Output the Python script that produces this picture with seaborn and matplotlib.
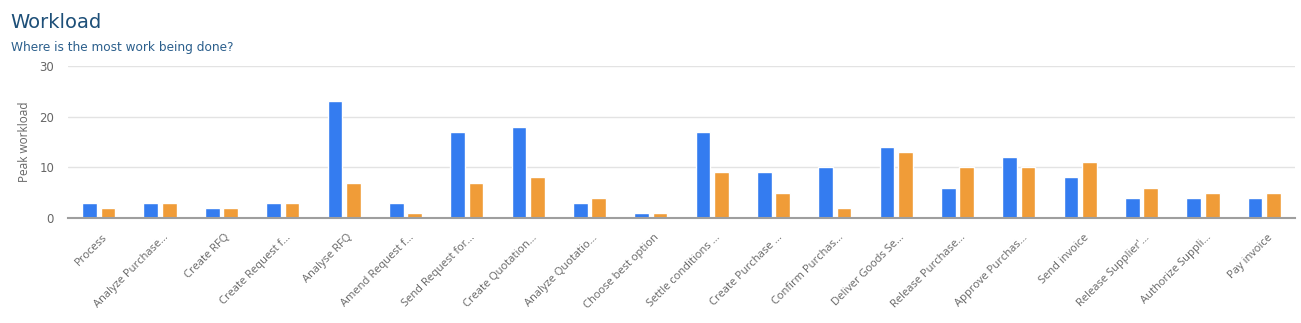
import matplotlib
matplotlib.use("Agg")
import matplotlib.pyplot as plt
import matplotlib.transforms as mtransforms
import seaborn as sns
import pandas as pd

# Activities (labels truncated as displayed on the axis)
activities = [
    "Process", "Analyze Purchase…", "Create RFQ", "Create Request f…",
    "Analyse RFQ", "Amend Request f…", "Send Request for…", "Create Quotation…",
    "Analyze Quotatio…", "Choose best option", "Settle conditions …",
    "Create Purchase …", "Confirm Purchas…", "Deliver Goods Se…",
    "Release Purchase…", "Approve Purchas…", "Send invoice",
    "Release Supplier'…", "Authorize Suppli…", "Pay invoice",
]
workload_a = [3, 3, 2, 3, 23, 3, 17, 18, 3, 1, 17, 9, 10, 14, 6, 12, 8, 4, 4, 4]
workload_b = [2, 3, 2, 3, 7, 1, 7, 8, 4, 1, 9, 5, 2, 13, 10, 10, 11, 6, 5, 5]
series_names = ["Workload A", "Workload B"]
y_ticks = [0, 10, 20, 30]

df = pd.DataFrame({
    "activity": activities * 2,
    "value": workload_a + workload_b,
    "series": [series_names[0]] * len(activities) + [series_names[1]] * len(activities),
})

sns.set_theme(style="white")
plt.rcParams["font.family"] = ["Open Sans", "DejaVu Sans"]

W, H = 1301, 323
fig = plt.figure(figsize=(W / 100, H / 100), dpi=100)
ax = fig.add_axes([68 / W, 1 - 218 / H, (1295 - 68) / W, (218 - 66) / H])

sns.barplot(
    data=df, x="activity", y="value", hue="series",
    palette=["#347cf0", "#f09c38"], width=0.6, gap=0.2,
    legend=False, ax=ax, saturation=1, errorbar=None, zorder=3,
)

ax.set_xlim(-0.5, len(activities) - 0.5)
ax.set_ylim(0, 30)
ax.set_yticks(y_ticks)
ax.set_yticklabels([str(t) for t in y_ticks], fontsize=8.5, color="#666666",
                   family=["DejaVu Sans"])
ax.tick_params(axis="y", length=0, pad=10)
ax.tick_params(axis="x", length=0, pad=10)
ax.grid(axis="y", color="#e3e3e3", linewidth=1, zorder=0)
for s in ["top", "right", "left"]:
    ax.spines[s].set_visible(False)
ax.spines["bottom"].set_color("#9e9e9e")
ax.spines["bottom"].set_linewidth(1.5)
ax.spines["bottom"].set_zorder(4)

ax.set_xlabel("")
ax.set_ylabel("Peak workload", fontsize=8.5, color="#666666", labelpad=6)

shift = mtransforms.ScaledTranslation(3 / 100, 0, fig.dpi_scale_trans)
for lab in ax.get_xticklabels():
    lab.set_rotation(45)
    lab.set_ha("right")
    lab.set_rotation_mode("anchor")
    lab.set_fontsize(8)
    lab.set_color("#666666")
    lab.set_transform(lab.get_transform() + shift)

fig.text(10 / W, 1 - 28 / H, "Workload", fontsize=14, color="#1d4f78",
         family=["DejaVu Sans"])
fig.text(11 / W, 1 - 51 / H, "Where is the most work being done?", fontsize=8.7,
         color="#2b5f8c", family=["DejaVu Sans"])

fig.savefig("out.png", dpi=100, facecolor="white")
